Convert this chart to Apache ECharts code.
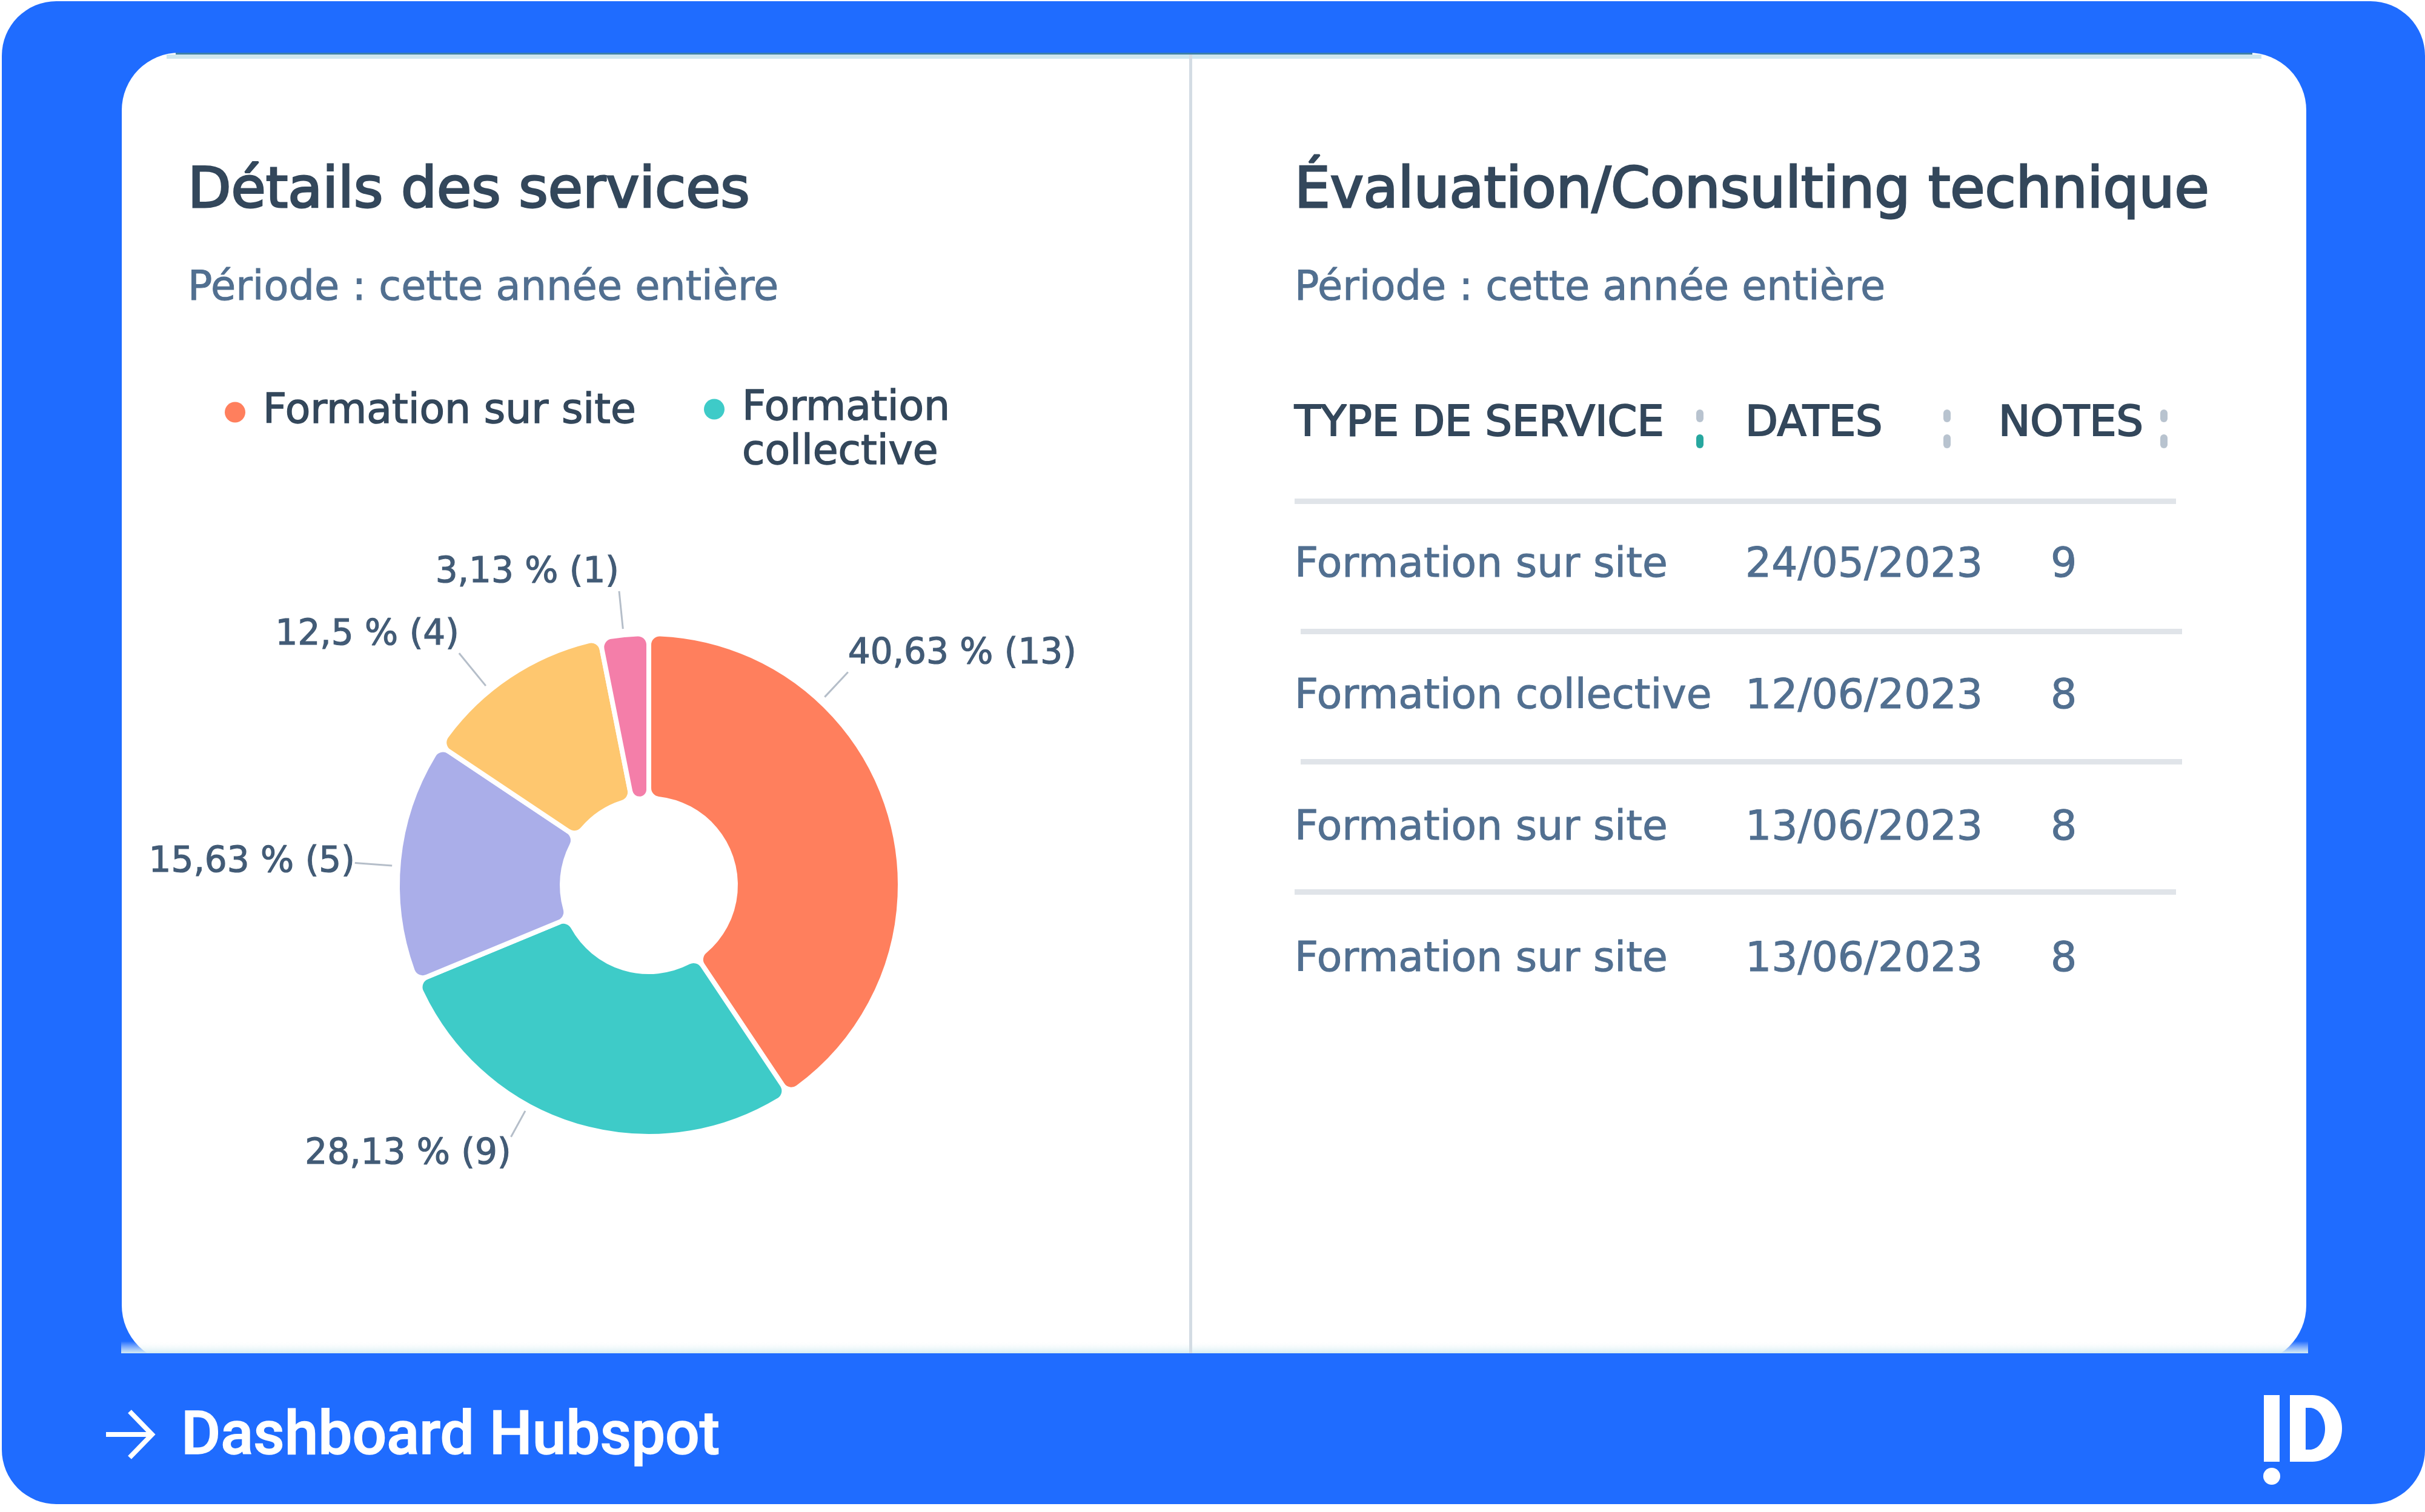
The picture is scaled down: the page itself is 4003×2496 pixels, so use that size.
<!DOCTYPE html>
<html>
<head>
<meta charset="utf-8">
<script src="https://cdn.jsdelivr.net/npm/echarts@6/dist/echarts.min.js"></script>
<style>
html,body{margin:0;padding:0;background:#ffffff;}
#chart{width:4003px;height:2496px;}
</style>
</head>
<body>
<div id="chart"></div>
<script>
// ---------- DATA ----------
const pieNames = ['Formation sur site', 'Formation collective', 'Évaluation/Consulting technique', 'Service 4', 'Service 5'];
const pieValues = [13, 9, 5, 4, 1];
const legendNames = ['Formation sur site', 'Formation collective'];
const tableHeaders = ['TYPE DE SERVICE', 'DATES', 'NOTES'];
const rowTypes = ['Formation sur site', 'Formation collective', 'Formation sur site', 'Formation sur site'];
const rowDates = ['24/05/2023', '12/06/2023', '13/06/2023', '13/06/2023'];
const rowNotes = ['9', '8', '8', '8'];
const leftTitle = 'Détails des services';
const rightTitle = 'Évaluation/Consulting technique';
const periodText = 'Période : cette année entière';
const footerText = 'Dashboard Hubspot';

// ---------- STYLE / LAYOUT ----------
const palette = ['#ff7f5d', '#3ecbc8', '#aaaee9', '#fec76f', '#f47ea9'];
const labelNudge = [[-111, -249], [-91, 10], [-28, 8], [-56, -34], [0, -62]];
const FONT = 'DejaVu Sans';
const BLUE = '#1f6cff';
const DARK = '#33475b';
const MUTED = '#516f90';
const PIE_C = [1071, 1461];
const PIE_R = [143, 415];
const colX = [2137, 2881, 3385];
const headerX = [2137, 2881, 3299];
const sortIconX = [2806, 3214, 3572];

const total = pieValues.reduce((a, b) => a + b, 0);
function frPercent(v) {
  const p = Math.round(v / total * 10000) / 100;
  return String(p).replace('.', ',');
}

function txt(x, y, text, size, color, opts) {
  opts = opts || {};
  const style = {
    text: text, fontSize: size, fontFamily: opts.family || FONT,
    fontWeight: opts.weight || 'normal', fill: color,
    align: opts.align || 'left', textAlign: opts.align || 'left',
    verticalAlign: 'middle', textVerticalAlign: 'middle'
  };
  if (opts.bold) { style.stroke = color; style.lineWidth = opts.bold; }
  return { type: 'text', x: x, y: y, silent: true, style: style };
}

// half-ellipse "D" outline as polygon points
function dShape(x0, y0, straight, rx, ry) {
  const pts = [[x0, y0], [x0 + straight, y0]];
  const cx = x0 + straight, cy = y0 + ry;
  for (let k = 1; k < 40; k++) {
    const a = -Math.PI / 2 + Math.PI * k / 40;
    pts.push([cx + rx * Math.cos(a), cy + ry * Math.sin(a)]);
  }
  pts.push([x0 + straight, y0 + 2 * ry], [x0, y0 + 2 * ry]);
  return pts;
}

const graphics = [];
// outer blue frame
graphics.push({ type: 'rect', silent: true, shape: { x: 3, y: 2, width: 4000, height: 2481, r: 90 }, style: { fill: BLUE } });
// white card
graphics.push({ type: 'rect', silent: true, shape: { x: 201, y: 87, width: 3606, height: 2163, r: 95 }, style: { fill: '#ffffff' } });
// card top edge artefact
graphics.push({ type: 'rect', silent: true, shape: { x: 290, y: 87, width: 3428, height: 3 }, style: { fill: '#3d80a8' } });
graphics.push({ type: 'rect', silent: true, shape: { x: 275, y: 90, width: 3458, height: 7 }, style: { fill: '#cfe7ef' } });
// card bottom strip
graphics.push({ type: 'rect', silent: true, shape: { x: 200, y: 2214, width: 3610, height: 20 },
  style: { fill: new echarts.graphic.LinearGradient(0, 0, 0, 1, [{ offset: 0, color: 'rgba(255,255,255,0)' }, { offset: 1, color: '#d4ecf2' }]) } });
// cut bottom of card
graphics.push({ type: 'rect', silent: true, shape: { x: 195, y: 2234, width: 3620, height: 25 }, style: { fill: BLUE } });
// divider
graphics.push({ type: 'rect', silent: true, shape: { x: 1963, y: 90, width: 5, height: 2144 }, style: { fill: '#d3dce4' } });

// titles
graphics.push(txt(310, 318, leftTitle, 93, DARK, { bold: 3 }));
graphics.push(txt(310, 478, periodText, 67, MUTED, { bold: 1 }));
graphics.push(txt(2137, 318, rightTitle, 93, DARK, { bold: 3 }));
graphics.push(txt(2137, 478, periodText, 67, MUTED, { bold: 1 }));

// table header
tableHeaders.forEach(function (h, i) {
  graphics.push(txt(headerX[i], 701, h, 70, DARK, { bold: 2.2 }));
  graphics.push({ type: 'rect', silent: true, shape: { x: sortIconX[i] - 6, y: 676, width: 12, height: 21, r: 6 }, style: { fill: '#b8c3cf' } });
  graphics.push({ type: 'rect', silent: true, shape: { x: sortIconX[i] - 6, y: 717, width: 12, height: 23, r: 6 }, style: { fill: i === 0 ? '#27a79f' : '#b8c3cf' } });
});
// table lines and rows
rowTypes.forEach(function (t, i) {
  const lineY = 828 + i * 215;
  graphics.push({ type: 'rect', silent: true, shape: { x: 2137 + (i === 1 || i === 2 ? 10 : 0), y: lineY - 5, width: 1455, height: 9 }, style: { fill: '#e0e4e9' } });
  const rowY = 934 + i * 217;
  graphics.push(txt(colX[0], rowY, t, 68, MUTED, { bold: 1 }));
  graphics.push(txt(colX[1], rowY, rowDates[i], 68, MUTED, { bold: 1 }));
  graphics.push(txt(colX[2], rowY, rowNotes[i], 68, MUTED, { bold: 1 }));
});

// footer arrow + text
graphics.push({ type: 'line', silent: true, shape: { x1: 175, y1: 2368, x2: 248, y2: 2368 }, style: { stroke: '#ffffff', lineWidth: 8 } });
graphics.push({ type: 'polyline', silent: true, shape: { points: [[214, 2330], [251, 2368], [214, 2406]] }, style: { stroke: '#ffffff', lineWidth: 8, fill: null, lineJoin: 'miter' } });
graphics.push(txt(299, 2375, footerText, 100, '#ffffff', { family: 'Roboto', weight: 500, bold: 1.5 }));

// logo "!D"
graphics.push({ type: 'rect', silent: true, shape: { x: 3737, y: 2303, width: 26, height: 110 }, style: { fill: '#ffffff' } });
graphics.push({ type: 'circle', silent: true, shape: { cx: 3750, cy: 2437, r: 14 }, style: { fill: '#ffffff' } });
graphics.push({ type: 'polygon', silent: true, shape: { points: dShape(3780, 2303, 37, 49, 55) }, style: { fill: '#ffffff' } });
graphics.push({ type: 'polygon', silent: true, shape: { points: dShape(3806, 2324, 7, 25, 34.5) }, style: { fill: BLUE } });

const chart = echarts.init(document.getElementById('chart'), null, { renderer: 'canvas', width: 4003, height: 2496 });

const legendText = { fontSize: 68, fontFamily: FONT, color: DARK, lineHeight: 73, textBorderColor: DARK, textBorderWidth: 1.5 };

chart.setOption({
  animation: false,
  backgroundColor: '#ffffff',
  graphic: { elements: graphics },
  legend: [
    {
      data: [legendNames[0]], left: 371, top: 644, padding: 0, icon: 'circle',
      itemWidth: 82, itemHeight: 34, selectedMode: false,
      itemStyle: { borderWidth: 0 },
      textStyle: legendText
    },
    {
      data: [legendNames[1]], left: 1162, top: 566, padding: 0, icon: 'circle',
      itemWidth: 82, itemHeight: 34, selectedMode: false,
      itemStyle: { borderWidth: 0 },
      formatter: function (n) { return '\n' + n.replace(' ', '\n'); },
      textStyle: legendText
    }
  ],
  series: [{
    type: 'pie',
    center: PIE_C,
    radius: PIE_R,
    startAngle: 90,
    clockwise: true,
    avoidLabelOverlap: false,
    color: palette,
    itemStyle: { borderColor: '#ffffff', borderWidth: 8, borderRadius: 18 },
    label: {
      show: true, position: 'outside',
      fontSize: 58, fontFamily: FONT, color: '#425b76',
      textBorderColor: '#425b76', textBorderWidth: 1.2,
      distanceToLabelLine: 5,
      formatter: function (p) { return frPercent(p.value) + ' % (' + p.value + ')'; }
    },
    labelLine: { show: true, length: 40, length2: 0, lineStyle: { color: '#b5bec9', width: 3 } },
    labelLayout: function (p) {
      const n = labelNudge[p.dataIndex] || [0, 0];
      const r = p.labelRect;
      const right = p.align === 'right';
      const ax = (right ? r.x + r.width : r.x) + n[0];
      const ay = r.y + r.height / 2 + n[1];
      const x0 = right ? ax - r.width : ax;
      const y0 = ay - r.height / 2;
      const cands = [[x0, y0], [x0 + r.width, y0], [x0, y0 + r.height], [x0 + r.width, y0 + r.height]];
      let best = cands[0], bd = Infinity;
      cands.forEach(function (c) {
        const d = Math.hypot(c[0] - PIE_C[0], c[1] - PIE_C[1]);
        if (d < bd) { bd = d; best = c; }
      });
      const sideX = right ? x0 + r.width : x0;
      const mid = [sideX, ay];
      const dm = Math.hypot(mid[0] - PIE_C[0], mid[1] - PIE_C[1]);
      if (Math.abs(mid[1] - PIE_C[1]) / dm < 0.2) { best = mid; bd = dm; }
      const ux = (best[0] - PIE_C[0]) / bd, uy = (best[1] - PIE_C[1]) / bd;
      const start = [PIE_C[0] + ux * (PIE_R[1] + 10), PIE_C[1] + uy * (PIE_R[1] + 10)];
      return { x: ax, y: ay, labelLinePoints: [start, best, best] };
    },
    data: pieNames.map(function (n, i) { return { name: n, value: pieValues[i] }; })
  }]
});
</script>
</body>
</html>
